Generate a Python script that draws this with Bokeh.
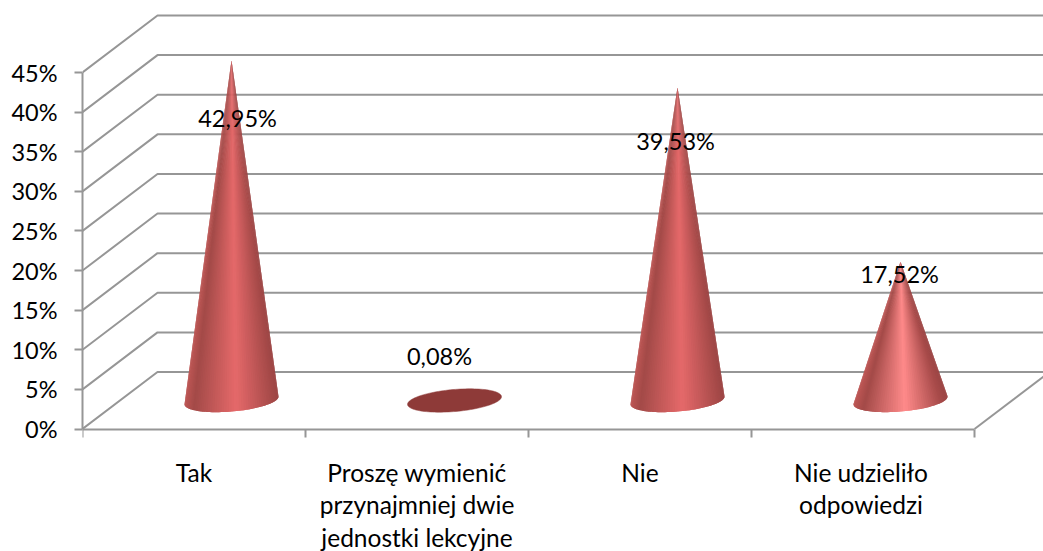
import numpy as np
from bokeh.plotting import figure
from bokeh.models import Range1d, FixedTicker, ColumnDataSource
from bokeh.core.properties import value
from bokeh.embed import file_html
from bokeh.resources import INLINE

categories = ["Tak", "Proszę wymienić\nprzynajmniej dwie\njednostki lekcyjne", "Nie", "Nie udzieliło\nodpowiedzi"]
values = [42.95, 0.08, 39.53, 17.52]
value_labels = ["42,95%", "0,08%", "39,53%", "17,52%"]
y_ticks = [0, 5, 10, 15, 20, 25, 30, 35, 40, 45]
y_tick_labels = {t: f"{t}%" for t in y_ticks}
highlights = ["#e5696a", "#e5696a", "#e5696a", "#ff8a8a"]
label_dx = [6, -15, -2, -1]      # px, relative to the cone axis
label_dy = [58, -44, 54, 12]     # px below the apex
cat_dx = [0, 0, 0, -2]           # px, relative to the category centre

W, H = 1043, 551
LEFT = 82
AXIS_Y = 428.5
PX_X = 223.0            # pixels per category
PX_Y = 356.5 / 45.0     # pixels per percent
DEPTH_X = 75 / PX_X     # depth vector of the floor, data units
DEPTH_Y = 57 / PX_Y
RX = 44.4 / PX_X        # cone base radius along x
RZ = 0.205              # cone base radius as fraction of depth
FONT = "Lato"
FS = "23.5px"
FS_CAT = "24.5px"
GRID = "#969696"

p = figure(width=W, height=H, output_backend="svg", toolbar_location=None,
           x_range=Range1d(0, (W - LEFT) / PX_X),
           y_range=Range1d(-(H - AXIS_Y) / PX_Y, AXIS_Y / PX_Y),
           min_border_left=LEFT, min_border_right=0, min_border_top=0, min_border_bottom=0,
           outline_line_color=None, background_fill_color="white", border_fill_color="white")
p.grid.visible = False

# walls
xend = (W - LEFT) / PX_X + 1
p.multi_line([[0, DEPTH_X, xend] for _ in y_ticks],
             [[t, t + DEPTH_Y, t + DEPTH_Y] for t in y_ticks],
             line_color=GRID, line_width=2)
n = len(categories)
p.line([n, n + DEPTH_X], [0, DEPTH_Y], line_color=GRID, line_width=2)

# axes
ax = p.yaxis[0]
ax.ticker = FixedTicker(ticks=y_ticks)
ax.major_label_overrides = y_tick_labels
ax.bounds = (0, 45)
ax.major_tick_in = 0
ax.major_tick_out = 8
ax.minor_tick_line_color = None
ax.axis_line_color = GRID
ax.major_tick_line_color = GRID
ax.axis_line_width = 2
ax.major_tick_line_width = 2
ax.major_label_standoff = 17
ax.major_label_text_font = FONT
ax.major_label_text_font_size = FS
ax.major_label_text_color = "#000000"

bx = p.xaxis[0]
bx.fixed_location = 0
bx.ticker = FixedTicker(ticks=list(range(n + 1)))
bx.major_label_overrides = {i: "" for i in range(n + 1)}
bx.bounds = (0, n)
bx.major_tick_in = 0
bx.major_tick_out = 8
bx.minor_tick_line_color = None
bx.axis_line_color = GRID
bx.major_tick_line_color = GRID
bx.axis_line_width = 2
bx.major_tick_line_width = 2


def hex2rgb(h):
    return np.array([int(h[i:i + 2], 16) for i in (1, 3, 5)], float)


def shade(u, hi):
    stops_u = [-1.0, -0.8, 0.1, 0.85, 1.0]
    stops = [hex2rgb("#bd5654"), hex2rgb("#a34a48"), hex2rgb(hi), hex2rgb("#a84b4a"), hex2rgb("#9c4544")]
    c = [np.interp(u, stops_u, [s[k] for s in stops]) for k in range(3)]
    return "#%02x%02x%02x" % tuple(int(round(v)) for v in c)


for i, (v, hi) in enumerate(zip(values, highlights)):
    cx = i + 0.5 + DEPTH_X / 2
    cy = DEPTH_Y / 2
    t = np.linspace(0, 2 * np.pi, 121)
    ex = cx + RX * np.cos(t) + RZ * DEPTH_X * np.sin(t)
    ey = cy + RZ * DEPTH_Y * np.sin(t)
    if v < 1:
        p.patch(ex, ey, fill_color="#8e3a38", line_color="#8e3a38", line_width=0.5)
        continue
    apex = (cx, cy + v)
    tt = np.linspace(0, 2 * np.pi, 720, endpoint=False)
    xx = cx + RX * np.cos(tt) + RZ * DEPTH_X * np.sin(tt)
    yy = cy + RZ * DEPTH_Y * np.sin(tt)
    a = np.arctan2((xx - apex[0]) * PX_X, (apex[1] - yy) * PX_Y)
    t_left, t_right = tt[np.argmin(a)], tt[np.argmax(a)]
    if t_right < t_left:
        t_right += 2 * np.pi
    # the front arc of the base, left tangent to right tangent, seen through the lower side
    arc = np.linspace(t_left, t_right, 61)
    if np.sin((t_left + t_right) / 2) > 0:
        arc = np.linspace(t_left + 2 * np.pi, t_right, 61)
    ax_ = cx + RX * np.cos(arc) + RZ * DEPTH_X * np.sin(arc)
    ay_ = cy + RZ * DEPTH_Y * np.sin(arc)
    umin, umax = ax_.min(), ax_.max()
    xs, ys, cols = [], [], []
    for k in range(len(arc) - 1):
        e = min(k + 3, len(arc))
        xs.append([apex[0], *ax_[k:e]])
        ys.append([apex[1], *ay_[k:e]])
        um = (ax_[k] + ax_[k + 1]) / 2
        cols.append(shade(2 * (um - umin) / (umax - umin) - 1, hi))
    p.patches(xs, ys, fill_color=cols, line_color=None)

# value labels
src = ColumnDataSource(dict(
    x=[i + 0.5 + DEPTH_X / 2 for i in range(n)],
    y=[v + DEPTH_Y / 2 for v in values],
    text=value_labels, dx=label_dx, dy=label_dy))
p.text("x", "y", text="text", source=src, x_offset="dx", y_offset="dy",
       text_font=value(FONT), text_font_size=value(FS), text_align="center",
       text_baseline="middle", text_color="#000000")

# category labels, one text per line
lx, ly, lt, ldx, ldy = [], [], [], [], []
for i, c in enumerate(categories):
    for j, line in enumerate(c.split("\n")):
        lx.append(i + 0.5)
        ly.append(0)
        lt.append(line)
        ldx.append(cat_dx[i])
        ldy.append(43 + 32.5 * j)
src2 = ColumnDataSource(dict(x=lx, y=ly, text=lt, dx=ldx, dy=ldy))
p.text("x", "y", text="text", source=src2, x_offset="dx", y_offset="dy",
       text_font=value(FONT), text_font_size=value(FS_CAT), text_align="center",
       text_baseline="middle", text_color="#000000")

open("out.html", "w").write(file_html(p, INLINE))
